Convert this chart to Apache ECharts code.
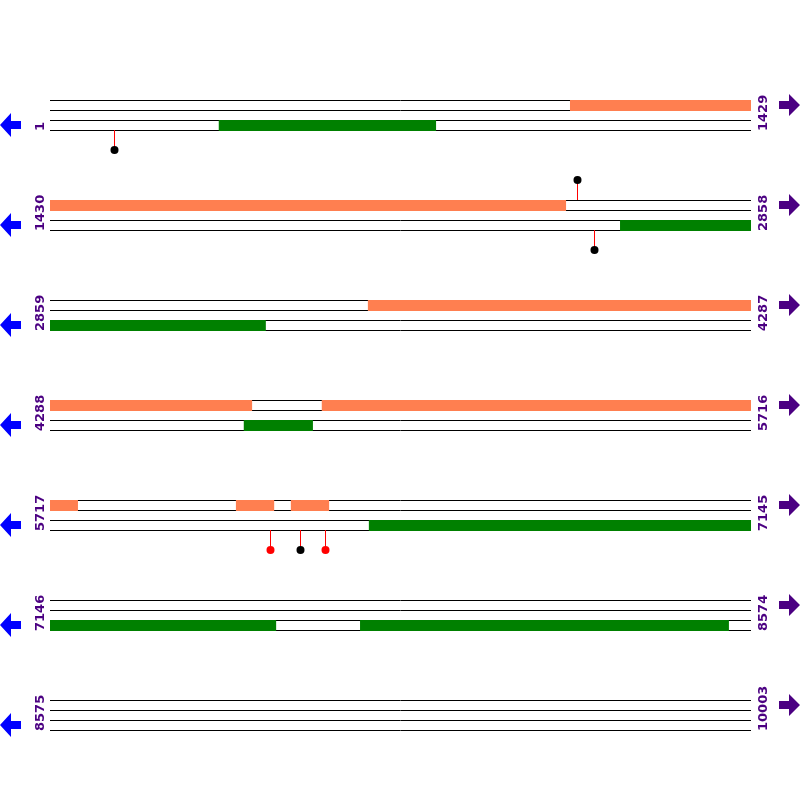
<!DOCTYPE html>
<html>
<head>
<meta charset="utf-8">
<script src="https://cdn.jsdelivr.net/npm/echarts@6/dist/echarts.min.js"></script>
<style>html,body{margin:0;padding:0;background:#fff}#c{width:800px;height:800px}</style>
</head>
<body>
<div id="c"></div>
<script>
// ---- data ----
const rowStarts = [1, 1430, 2859, 4288, 5717, 7146, 8575];
const rowEnds = [1429, 2858, 4287, 5716, 7145, 8574, 10003];
// upper track features (global positions, inclusive)
const upperFeatures = [[1061, 2481], [3507, 4699], [4842, 5716], [5717, 5773], [6096, 6173], [6208, 6285]];
// lower track features
const lowerFeatures = [[345, 787], [2592, 3298], [4683, 4823], [6367, 7606], [7778, 8529]];
// lollipop markers: position, direction (1 = below, -1 = above), dot colour
const markerPos = [131, 2504, 2539, 6165, 6227, 6278];
const markerDir = [1, -1, 1, 1, 1, 1];
const markerColor = ['#000000', '#000000', '#000000', '#ff0000', '#000000', '#ff0000'];

const rowLen = 1429;
const UPPER_COLOR = '#ff7f50';
const LOWER_COLOR = '#008000';
const LABEL_COLOR = '#4b0082';
const LABEL_FONT = 'bold 13px "DejaVu Sans", sans-serif';

function rowOf(p) {
  for (let k = 0; k < rowStarts.length; k++) if (p >= rowStarts[k] && p <= rowEnds[k]) return k;
  return -1;
}
// split features into per-row segments
function segments(list, track) {
  const out = [];
  list.forEach(([s, e]) => {
    for (let k = 0; k < rowStarts.length; k++) {
      const a = Math.max(s, rowStarts[k]), b = Math.min(e, rowEnds[k]);
      if (a <= b) out.push([a - rowStarts[k], b - rowStarts[k] + 1, k, track]);
    }
  });
  return out;
}
const featData = segments(upperFeatures, 0).concat(segments(lowerFeatures, 1));
const rowData = rowStarts.map((s, k) => [k, s, rowEnds[k]]);
const markerData = markerPos.map((p, i) => [p - rowStarts[rowOf(p)], rowOf(p), markerDir[i], markerColor[i]]);

const chart = echarts.init(document.getElementById('c'), null, {renderer: 'canvas'});
const option = {
  animation: false,
  grid: {left: 50, right: 49, top: 0, bottom: 0},
  xAxis: {type: 'value', min: 0, max: rowLen, show: false},
  yAxis: {type: 'value', min: 0, max: 8, inverse: true, show: false},
  series: [
    {
      type: 'custom',
      data: rowData,
      renderItem: function (params, api) {
        const k = api.value(0);
        const children = [];
        [0, 0.1, 0.2, 0.3].forEach(off => {
          const p0 = api.coord([0, k + 1 + off]);
          const p1 = api.coord([rowLen, k + 1 + off]);
          children.push({type: 'line', shape: {x1: p0[0], y1: Math.round(p0[1]) + 0.5, x2: p1[0], y2: Math.round(p1[1]) + 0.5},
            style: {stroke: '#000', lineWidth: 1}});
        });
        const top = api.coord([0, k + 1])[1];
        const bot = api.coord([0, k + 1.3])[1];
        const leftX = api.coord([0, 0])[0];
        const rightX = api.coord([rowLen, 0])[0];
        children.push({type: 'text', x: leftX - 9, y: bot + 1, rotation: Math.PI / 2,
          style: {text: String(api.value(1)), fill: LABEL_COLOR, font: LABEL_FONT, align: 'left', verticalAlign: 'middle'}});
        children.push({type: 'text', x: rightX + 13, y: bot + 1, rotation: Math.PI / 2,
          style: {text: String(api.value(2)), fill: LABEL_COLOR, font: LABEL_FONT, align: 'left', verticalAlign: 'middle'}});
        const yl = top + 25, yr = top + 5;
        children.push({type: 'polygon', shape: {points: [[0, yl], [11, yl - 12], [11, yl - 4], [21, yl - 4], [21, yl + 4], [11, yl + 4], [11, yl + 12]]},
          style: {fill: '#0000ff'}});
        children.push({type: 'polygon', shape: {points: [[800, yr], [789, yr - 11], [789, yr - 4], [779, yr - 4], [779, yr + 4], [789, yr + 4], [789, yr + 11]]},
          style: {fill: LABEL_COLOR}});
        return {type: 'group', children: children};
      },
      z: 1
    },
    {
      type: 'custom',
      data: featData,
      renderItem: function (params, api) {
        const k = api.value(2), tr = api.value(3);
        const yTop = k + 1 + (tr ? 0.2 : 0);
        const p0 = api.coord([api.value(0), yTop]);
        const p1 = api.coord([api.value(1), yTop + 0.1]);
        return {type: 'rect', shape: {x: p0[0], y: p0[1], width: p1[0] - p0[0], height: p1[1] - p0[1] + 1},
          style: {fill: tr ? LOWER_COLOR : UPPER_COLOR}};
      },
      z: 2
    },
    {
      type: 'custom',
      data: markerData,
      renderItem: function (params, api) {
        const x = api.coord([api.value(0), 0])[0];
        const k = api.value(1), dir = api.value(2);
        const base = api.coord([0, k + 1 + (dir > 0 ? 0.3 : 0)])[1];
        const tip = api.coord([0, k + 1 + (dir > 0 ? 0.5 : -0.2)])[1];
        const xs = Math.round(x) + 0.5;
        return {type: 'group', children: [
          {type: 'line', shape: {x1: xs, y1: base, x2: xs, y2: tip}, style: {stroke: '#ff0000', lineWidth: 1}},
          {type: 'circle', shape: {cx: xs, cy: tip, r: 4}, style: {fill: api.value(3)}}
        ]};
      },
      z: 3
    }
  ]
};
chart.setOption(option);
</script>
</body>
</html>
